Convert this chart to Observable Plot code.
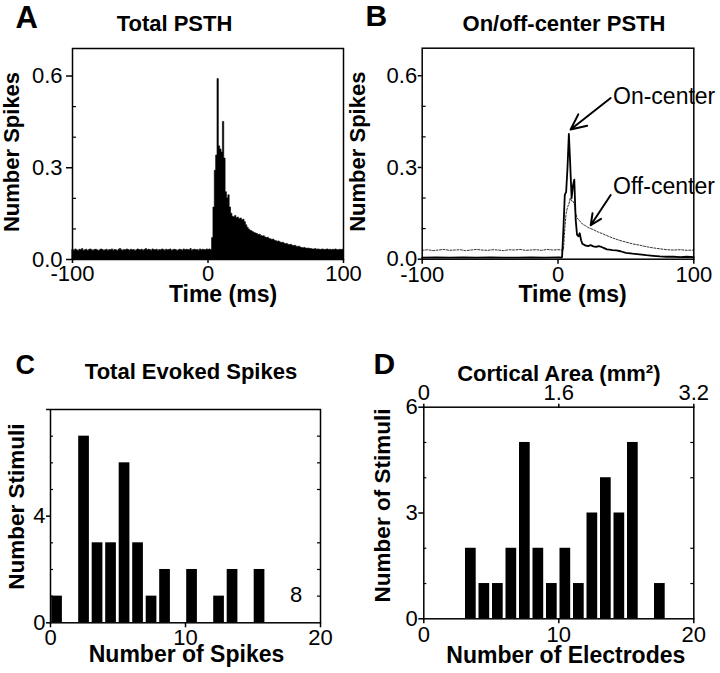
<!DOCTYPE html>
<html><head><meta charset="utf-8">
<script src="https://cdn.jsdelivr.net/npm/d3@7"></script>
<script src="https://cdn.jsdelivr.net/npm/@observablehq/plot@0.6"></script>
<style>
body{margin:0;background:#fff;}
#wrap{position:relative;width:720px;height:673px;overflow:hidden;background:#fff;}
.panel{position:absolute;}
</style></head><body><div id="wrap"></div>
<script>
// ---------- Panel A: Total PSTH (1 ms bins, -100 .. 99 ms) ----------
const psthA_start = -100;
const psthA_values = [
0.031,0.029,0.033,0.030,0.028,0.032,0.031,0.034,0.029,0.030,
0.032,0.028,0.031,0.033,0.030,0.029,0.031,0.032,0.030,0.028,
0.030,0.033,0.031,0.029,0.030,0.032,0.028,0.031,0.030,0.033,
0.029,0.031,0.030,0.028,0.032,0.034,0.030,0.029,0.031,0.030,
0.033,0.031,0.029,0.032,0.030,0.031,0.028,0.030,0.033,0.031,
0.030,0.032,0.029,0.031,0.034,0.030,0.032,0.031,0.029,0.033,
0.031,0.030,0.032,0.028,0.031,0.030,0.033,0.031,0.029,0.032,
0.030,0.031,0.033,0.029,0.030,0.032,0.031,0.028,0.030,0.032,
0.031,0.029,0.033,0.030,0.032,0.031,0.030,0.034,0.029,0.031,
0.032,0.030,0.031,0.029,0.033,0.030,0.032,0.031,0.030,0.033,
0.031,0.033,0.030,0.070,0.170,0.290,0.340,0.590,0.370,0.360,
0.350,0.450,0.330,0.220,0.200,0.210,0.170,0.150,0.140,0.138,
0.142,0.135,0.137,0.132,0.134,0.128,0.130,0.122,0.112,0.104,
0.098,0.094,0.092,0.089,0.087,0.085,0.083,0.080,0.081,0.077,
0.075,0.076,0.072,0.070,0.071,0.067,0.066,0.064,0.065,0.061,
0.060,0.058,0.059,0.056,0.054,0.055,0.052,0.050,0.051,0.048,
0.047,0.048,0.045,0.044,0.045,0.042,0.041,0.042,0.039,0.038,
0.037,0.038,0.036,0.035,0.036,0.034,0.034,0.033,0.033,0.034,
0.032,0.033,0.032,0.031,0.033,0.032,0.031,0.032,0.033,0.031,
0.032,0.030,0.032,0.031,0.033,0.031,0.030,0.032,0.031,0.032];
const timeTicks = [-100, 0, 100];
const timeTickLabels = ["-100", "0", "100"];
const spikeTicks = [0, 0.3, 0.6];
const spikeTickLabels = ["0.0", "0.3", "0.6"];
const spikeMinor = [0.1, 0.2, 0.4, 0.5];

// ---------- Panel B: On/off-center PSTH ----------
const onTime = [-100,-90,-80,-70,-60,-50,-40,-30,-20,-10,0,1,2,3,4,5,6,7,8,9,10,11,12,13,14,15,16,17,18,19,20,22,24,26,28,30,32,34,36,38,40,43,46,50,55,60,65,70,75,80,85,90,95,100];
const onValue = [0.005,0.006,0.005,0.006,0.005,0.006,0.005,0.005,0.006,0.005,0.006,0.006,0.005,0.007,0.10,0.21,0.22,0.30,0.41,0.31,0.20,0.24,0.26,0.13,0.08,0.075,0.085,0.062,0.050,0.048,0.045,0.043,0.046,0.042,0.040,0.043,0.040,0.036,0.032,0.031,0.030,0.029,0.026,0.021,0.018,0.016,0.013,0.011,0.009,0.008,0.008,0.007,0.008,0.007];
const offTime = [-100,-96,-92,-88,-84,-80,-76,-72,-68,-64,-60,-56,-52,-48,-44,-40,-36,-32,-28,-24,-20,-16,-12,-8,-4,0,4,5,6,7,8,9,10,11,12,13,14,15,16,17,18,20,22,24,26,28,30,33,36,40,45,50,55,60,65,70,75,80,85,90,95,100];
const offValue = [0.029,0.031,0.028,0.030,0.032,0.029,0.030,0.031,0.028,0.030,0.032,0.030,0.029,0.031,0.030,0.028,0.031,0.030,0.032,0.029,0.030,0.031,0.029,0.032,0.030,0.031,0.030,0.10,0.15,0.17,0.18,0.20,0.19,0.19,0.18,0.15,0.135,0.13,0.125,0.12,0.115,0.11,0.104,0.10,0.097,0.092,0.088,0.083,0.077,0.070,0.062,0.056,0.050,0.046,0.041,0.037,0.034,0.031,0.030,0.031,0.029,0.030];
const bLabels = ["On-center", "Off-center"];
const bLabelTime = [40.5, 40.5];
const bLabelValue = [0.533, 0.236];
const bArrowFrom = [[38.8, 0.527], [38.8, 0.21]];
const bArrowTo = [[9.3, 0.424], [24.1, 0.111]];

// ---------- Panel C: Total Evoked Spikes ----------
const spikeBins = [0,2,3,4,5,6,7,8,10,12,13,15];
const spikeCounts = [1,7,3,3,6,3,1,2,2,1,2,2];
const cXTicks = [0,10,20];
const cXTickLabels = ["0","10","20"];
const cYTicks = [0,4,8];
const cYTickLabels = ["0","4",""];
const cYMinor = [1,2,3,5,6,7];
const cNote = [{x: 18.2, y: 1.05, text: "8"}];

// ---------- Panel D: Number of Electrodes / Cortical Area ----------
const electrodeBins = [3,4,5,6,7,8,9,10,11,12,13,14,15,17];
const electrodeCounts = [2,1,1,2,5,2,1,2,1,3,4,3,5,1];
const dXTicks = [0,10,20];
const dXTickLabels = ["0","10","20"];
const areaTickLabels = ["0","1.6","3.2"];
const dYTicks = [0,3,6];
const dYTickLabels = ["0","3","6"];
const dYMinor = [1,2,4,5];

// ---------- helpers ----------
const FONT = "'Liberation Sans', Arial, Helvetica, sans-serif";
const baseStyle = {fontFamily: FONT, color: "black", background: "transparent", overflow: "visible"};
const wrap = document.getElementById("wrap");
function place(svg, left, top) {
  const d = document.createElement("div");
  d.className = "panel";
  d.style.left = left + "px"; d.style.top = top + "px";
  d.appendChild(svg); wrap.appendChild(d);
}
const fmt = (ticks, labels) => d => labels[ticks.indexOf(d)];
const boldText = (s, o) => Plot.text([s], {fontWeight: "bold", lineAnchor: "bottom", textAnchor: "middle", ...o});
const yLabel = (s, o) => Plot.text([s], {frameAnchor: "left", rotate: -90, textAnchor: "middle", lineAnchor: "middle", fontWeight: "bold", ...o});

// ---------- Panel A ----------
{
  const W = 360, H = 330, ml = 72, mr = 17, mt = 48, mb = 71;
  const iw = W - ml - mr;
  const data = psthA_values.map((v, i) => ({t: psthA_start + i, v}));
  data.push({t: psthA_start + psthA_values.length, v: psthA_values[psthA_values.length - 1]});
  place(Plot.plot({
    width: W, height: H, marginLeft: ml, marginRight: mr, marginTop: mt, marginBottom: mb,
    style: baseStyle,
    x: {domain: [-100, 100], label: null},
    y: {domain: [0, 0.69], label: null},
    marks: [
      Plot.areaY(data, {x: "t", y: "v", curve: "step-after", fill: "black", stroke: "black", strokeWidth: 0.6}),
      Plot.tickY(spikeMinor, {y: d => d, insetRight: iw - 4, strokeWidth: 1.2}),
      Plot.frame({strokeWidth: 1.5}),
      Plot.axisY({ticks: spikeTicks, tickFormat: fmt(spikeTicks, spikeTickLabels), tickSize: 6, tickPadding: 4, fontSize: 22, strokeWidth: 1.5, label: null}),
      Plot.axisX({ticks: timeTicks, tickFormat: fmt(timeTicks, timeTickLabels), tickSize: 4, tickPadding: 2, fontSize: 22, strokeWidth: 1.5, label: null}),
      boldText("Time (ms)", {frameAnchor: "bottom", dx: 15, dy: 42, fontSize: 23}),
      yLabel("Number Spikes", {dx: -61, dy: -2, fontSize: 22}),
      boldText("Total PSTH", {frameAnchor: "top", dx: -33.5, dy: -18, fontSize: 22}),
      boldText("A", {frameAnchor: "top-left", textAnchor: "start", dx: -57, dy: -21, fontSize: 31})
    ]
  }), 0, 0);
}

// ---------- Panel B ----------
{
  const W = 360, H = 330, ml = 61.7, mr = 26.7, mt = 47.7, mb = 71.3;
  const iw = W - ml - mr;
  const on = onTime.map((t, i) => ({t, v: onValue[i]}));
  const off = offTime.map((t, i) => ({t, v: offValue[i]}));
  const labels = bLabels.map((s, i) => ({s, t: bLabelTime[i], v: bLabelValue[i]}));
  const arrows = bArrowFrom.map((f, i) => ({x1: f[0], y1: f[1], x2: bArrowTo[i][0], y2: bArrowTo[i][1]}));
  place(Plot.plot({
    width: W, height: H, marginLeft: ml, marginRight: mr, marginTop: mt, marginBottom: mb,
    style: baseStyle,
    x: {domain: [-100, 100], label: null},
    y: {domain: [0, 0.69], label: null},
    marks: [
      Plot.line(off, {x: "t", y: "v", stroke: "#333", strokeWidth: 1, strokeDasharray: "2,1.5"}),
      Plot.line(on, {x: "t", y: "v", stroke: "black", strokeWidth: 1.8}),
      Plot.tickY(spikeMinor, {y: d => d, insetRight: iw - 4, strokeWidth: 1.2}),
      Plot.frame({strokeWidth: 1.5}),
      Plot.axisY({ticks: spikeTicks, tickFormat: fmt(spikeTicks, spikeTickLabels), tickSize: 4, tickPadding: 1, fontSize: 22, strokeWidth: 1.5, label: null}),
      Plot.axisX({ticks: timeTicks, tickFormat: fmt(timeTicks, timeTickLabels), tickSize: 5, tickPadding: 2, fontSize: 22, strokeWidth: 1.5, label: null}),
      Plot.arrow(arrows, {x1: "x1", y1: "y1", x2: "x2", y2: "y2", strokeWidth: 2, headLength: 14, headAngle: 50}),
      Plot.text(labels, {x: "t", y: "v", text: "s", textAnchor: "start", fontSize: 23}),
      boldText("Time (ms)", {frameAnchor: "bottom", dx: 14.5, dy: 42.3, fontSize: 23}),
      yLabel("Number Spikes", {dx: -64.7, dy: -2, fontSize: 22}),
      boldText("On/off-center PSTH", {frameAnchor: "top", dx: 6, dy: -17.7, fontSize: 22}),
      boldText("B", {frameAnchor: "top-left", textAnchor: "start", dx: -56.7, dy: -22.7, fontSize: 30})
    ]
  }), 360, 0);
}

// ---------- Panel C ----------
{
  const W = 360, H = 343, ml = 50, mr = 40, mt = 79, mb = 50.7;
  const iw = W - ml - mr;
  const data = spikeBins.map((b, i) => ({b, c: spikeCounts[i]}));
  place(Plot.plot({
    width: W, height: H, marginLeft: ml, marginRight: mr, marginTop: mt, marginBottom: mb,
    style: baseStyle,
    x: {domain: [0, 20], label: null},
    y: {domain: [0, 8], label: null},
    marks: [
      Plot.rectY(data, {x1: "b", x2: d => d.b + 1, y: "c", fill: "black", insetLeft: 1.2, insetRight: 1.6}),
      Plot.tickY(cYMinor, {y: d => d, insetRight: iw - 3, strokeWidth: 1.2}),
      Plot.tickY(cYMinor, {y: d => d, insetLeft: iw - 3, strokeWidth: 1.2}),
      Plot.frame({strokeWidth: 1.5}),
      Plot.axisY({ticks: cYTicks, tickFormat: fmt(cYTicks, cYTickLabels), tickSize: 4, tickPadding: 1, fontSize: 22, strokeWidth: 1.5, label: null}),
      Plot.axisX({ticks: cXTicks, tickFormat: fmt(cXTicks, cXTickLabels), tickSize: 5, tickPadding: 2, fontSize: 22, strokeWidth: 1.5, label: null}),
      Plot.text(cNote, {x: "x", y: "y", text: "text", fontSize: 22}),
      boldText("Number of Spikes", {frameAnchor: "bottom", dx: 1, dy: 39, fontSize: 23}),
      yLabel("Number Stimuli", {dx: -34, dy: -9.6, fontSize: 22.5}),
      boldText("Total Evoked Spikes", {frameAnchor: "top", dx: 5.5, dy: -31, fontSize: 22}),
      boldText("C", {frameAnchor: "top-left", textAnchor: "start", dx: -35, dy: -36, fontSize: 27})
    ]
  }), 0, 330);
}

// ---------- Panel D ----------
{
  const W = 360, H = 343, ml = 63.3, mr = 26.7, mt = 76.7, mb = 54.7;
  const iw = W - ml - mr;
  const data = electrodeBins.map((b, i) => ({b, c: electrodeCounts[i]}));
  place(Plot.plot({
    width: W, height: H, marginLeft: ml, marginRight: mr, marginTop: mt, marginBottom: mb,
    style: baseStyle,
    x: {domain: [0, 20], label: null},
    y: {domain: [0, 6], label: null},
    marks: [
      Plot.rectY(data, {x1: "b", x2: d => d.b + 1, y: "c", fill: "black", insetLeft: 1.2, insetRight: 1.6}),
      Plot.tickY(dYMinor, {y: d => d, insetRight: iw - 3, strokeWidth: 1.2}),
      Plot.tickY(dYMinor, {y: d => d, insetLeft: iw - 3, strokeWidth: 1.2}),
      Plot.frame({strokeWidth: 1.5}),
      Plot.axisY({ticks: dYTicks, tickFormat: fmt(dYTicks, dYTickLabels), tickSize: 5, tickPadding: 1, fontSize: 22, strokeWidth: 1.5, label: null}),
      Plot.axisX({ticks: dXTicks, tickFormat: fmt(dXTicks, dXTickLabels), tickSize: 5, tickPadding: 3, fontSize: 22, strokeWidth: 1.5, label: null}),
      Plot.axisX({anchor: "top", ticks: dXTicks, tickFormat: fmt(dXTicks, areaTickLabels), tickSize: 4, tickPadding: 3, fontSize: 22, strokeWidth: 1.5, label: null}),
      boldText("Number of Electrodes", {frameAnchor: "bottom", dx: 7, dy: 44, fontSize: 23}),
      yLabel("Number of Stimuli", {dx: -40.8, dy: -7.5, fontSize: 22.5}),
      boldText("Cortical Area (mm²)", {frameAnchor: "top", dx: 0, dy: -26.7, fontSize: 22}),
      boldText("D", {frameAnchor: "top-left", textAnchor: "start", dx: -50.3, dy: -33.7, fontSize: 30})
    ]
  }), 360, 330);
}
</script></body></html>
